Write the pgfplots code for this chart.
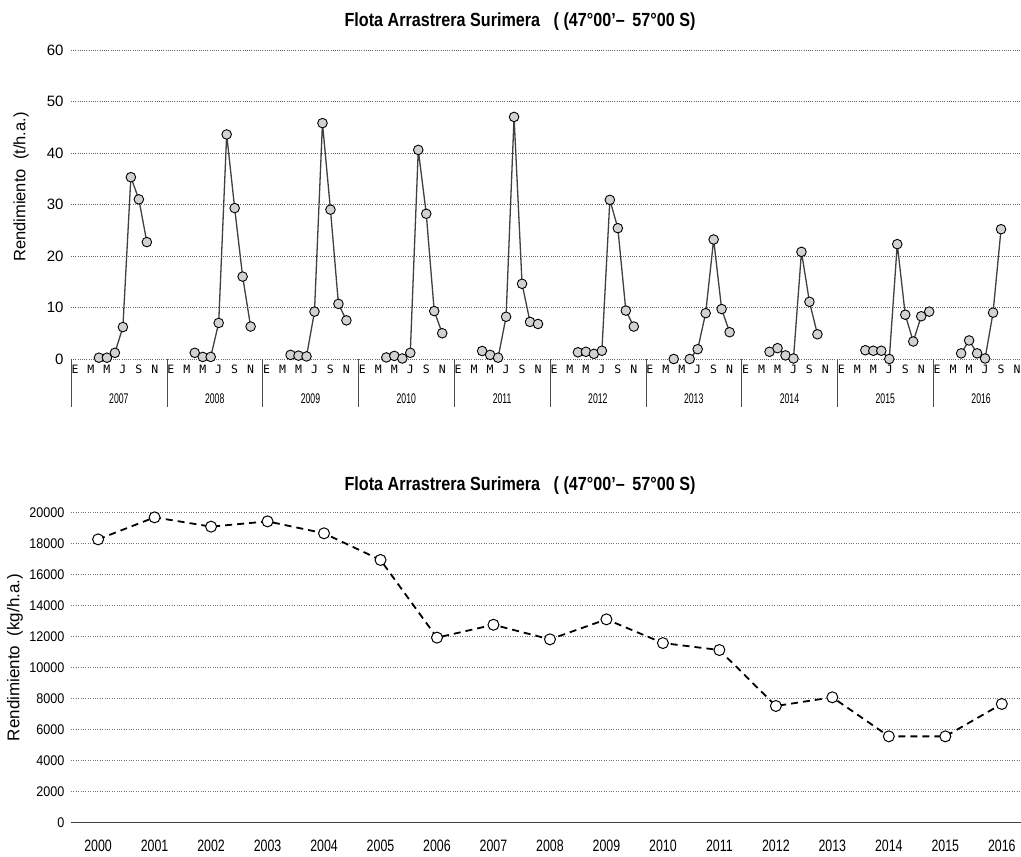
\documentclass[border=0pt]{standalone}
\usepackage{pgfplots}
\usepackage{pgfplotstable}
\pgfplotsset{compat=1.18}
\usepackage{fontspec}
\setmainfont{Liberation Sans}
\newfontfamily\narrowf[FakeStretch=0.85]{Liberation Sans}
\newfontfamily\ticknarrow[FakeStretch=0.75]{Liberation Sans}
\newfontfamily\ytickf[FakeStretch=0.9]{Liberation Sans}
\newfontfamily\yearf[FakeStretch=0.62]{Liberation Sans}
\newfontfamily\monof{DejaVu Sans Mono}
\newcommand{\yr}[1]{{\yearf\fontsize{14}{15}\selectfont #1}}

% monthly yield (t/h.a.), x = months since Jan 2007 (month centre)
\pgfplotstableread{
x y
3.5 0.25
4.5 0.25
5.5 1.2
6.5 6.2
7.5 35.3
8.5 31.0
9.5 22.7
10 nan
15.5 1.2
16.5 0.4
17.5 0.4
18.5 7.0
19.5 43.6
20.5 29.3
21.5 16.0
22.5 6.3
23 nan
27.5 0.8
28.5 0.65
29.5 0.5
30.5 9.2
31.5 45.8
32.5 29.0
33.5 10.7
34.5 7.5
35 nan
39.5 0.3
40.5 0.6
41.5 0.1
42.5 1.2
43.5 40.6
44.5 28.2
45.5 9.3
46.5 5.0
47 nan
51.5 1.55
52.5 0.8
53.5 0.26
54.5 8.2
55.5 47.0
56.5 14.6
57.5 7.2
58.5 6.8
59 nan
63.5 1.3
64.5 1.4
65.5 1.0
66.5 1.6
67.5 30.9
68.5 25.4
69.5 9.4
70.5 6.3
71 nan
75.5 0.0
76.5 nan
77.5 0.0
78.5 1.9
79.5 8.9
80.5 23.2
81.5 9.7
82.5 5.2
83 nan
87.5 1.4
88.5 2.1
89.5 0.7
90.5 0.1
91.5 20.8
92.5 11.1
93.5 4.8
95 nan
99.5 1.7
100.5 1.6
101.5 1.6
102.5 0.0
103.5 22.3
104.5 8.6
105.5 3.4
106.5 8.3
107.5 9.2
108 nan
111.5 1.1
112.5 3.6
113.5 1.1
114.5 0.1
115.5 9.0
116.5 25.2
}\topdata

% annual yield (kg/h.a.)
\pgfplotstableread{
year val
2000 18280
2001 19700
2002 19100
2003 19440
2004 18670
2005 16950
2006 11940
2007 12770
2008 11830
2009 13120
2010 11590
2011 11140
2012 7530
2013 8090
2014 5570
2015 5570
2016 7660
}\botdata

\begin{document}
\begin{tikzpicture}
\useasboundingbox (0,0) rectangle (1021pt,857pt);
\fill[white] (0,0) rectangle (1021pt,857pt);

% ---------- top chart ----------
\node[font=\narrowf\bfseries\fontsize{19}{22}\selectfont] at (520pt,835pt)
  {Flota Arrastrera Surimera \ \ ( (47°00’– \,57°00 S)};
\node[rotate=90, font=\fontsize{16.5}{18}\selectfont] at (21pt,670pt)
  {Rendimiento \ (t/h.a.)};

\begin{axis}[
  at={(71pt,498pt)}, anchor=south west, scale only axis,
  width=950pt, height=309pt,
  xmin=0, xmax=119, ymin=0, ymax=60,
  ytick={0,10,...,60},
  axis line style={draw=none},
  major tick length=0pt,
  ymajorgrids,
  grid style={black!60, dash pattern=on 0.8pt off 1.4pt, line width=0.6pt},
  xtick={0.5,2.5,...,118.5},
  xticklabels={E,M,M,J,S,N,E,M,M,J,S,N,E,M,M,J,S,N,E,M,M,J,S,N,E,M,M,J,S,N,
               E,M,M,J,S,N,E,M,M,J,S,N,E,M,M,J,S,N,E,M,M,J,S,N,E,M,M,J,S,N},
  x tick label style={font=\monof\fontsize{11.5}{12}\selectfont, yshift=-3pt,
     text height=1.6ex, text depth=0.2ex},
  extra x ticks={6,18,...,114},
  extra x tick labels={\yr{2007},\yr{2008},\yr{2009},\yr{2010},\yr{2011},
     \yr{2012},\yr{2013},\yr{2014},\yr{2015},\yr{2016}},
  extra x tick style={x tick label style={yshift=-30pt}},
  y tick label style={font=\fontsize{15}{17}\selectfont, xshift=-4pt},
  /pgf/number format/assume math mode=true,
  clip=false,
]
\addplot[black!75, line width=1.3pt, unbounded coords=jump,
  mark=*, mark size=4.8pt,
  mark options={fill=gray!35, draw=black, line width=0.9pt}]
  table[x=x, y=y] {\topdata};
\end{axis}
\foreach \k in {0,...,9}
  \draw[black!70, line width=0.6pt] ({71pt+\k*95.8pt},498pt) -- ++(0,-48pt);

% ---------- bottom chart ----------
\node[font=\narrowf\bfseries\fontsize{19}{22}\selectfont] at (520pt,371pt)
  {Flota Arrastrera Surimera \ \ ( (47°00’– \,57°00 S)};
\node[rotate=90, font=\fontsize{17}{19}\selectfont] at (15pt,199.5pt)
  {Rendimiento \ (kg/h.a.)};

\begin{axis}[
  at={(71pt,34.3pt)}, anchor=south west, scale only axis,
  width=950pt, height=310pt,
  xmin=1999.52, xmax=2016.34, ymin=0, ymax=20000,
  ytick={0,2000,...,20000},
  xtick={2000,2001,...,2016},
  axis lines*=left,
  x axis line style={black!75, line width=1.3pt},
  y axis line style={draw=none},
  major tick length=0pt,
  ymajorgrids,
  grid style={black!55, dash pattern=on 0.8pt off 1.6pt, line width=0.6pt},
  scaled y ticks=false,
  x tick label style={font=\ticknarrow\fontsize{16.5}{18}\selectfont, yshift=-14pt,
     /pgf/number format/1000 sep={}},
  y tick label style={font=\ytickf\fontsize{14}{16}\selectfont, xshift=-3pt,
     /pgf/number format/1000 sep={}},
  /pgf/number format/assume math mode=true,
  clip=false,
]
\addplot[black, line width=1.8pt, dash pattern=on 7pt off 5pt,
  mark=*, mark size=5.5pt,
  mark options={solid, fill=white, draw=black, line width=1pt}]
  table[x=year, y=val] {\botdata};
\end{axis}
\end{tikzpicture}
\end{document}
